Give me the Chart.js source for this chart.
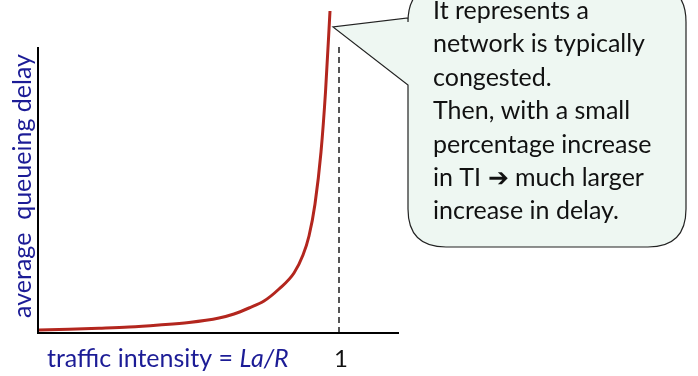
<!DOCTYPE html>
<html>
<head>
<meta charset="utf-8">
<script src="https://cdn.jsdelivr.net/npm/chart.js@4/dist/chart.umd.min.js"></script>
<style>
  html, body { margin: 0; padding: 0; background: #fff; }
  #wrap { position: relative; width: 698px; height: 376px; }
</style>
</head>
<body>
<div id="wrap"><canvas id="delayChart"></canvas></div>
<script>
// traffic intensity (La/R) vs average queueing delay (relative units)
const intensity = [0, 0.1, 0.2, 0.3, 0.4, 0.5, 0.6, 0.65, 0.7, 0.75, 0.8, 0.85, 0.88, 0.9, 0.92, 0.94, 0.955, 0.97];
const delay = [2, 2.8, 3.8, 5, 7, 9.5, 14, 18, 24, 31, 43, 59, 77, 96, 128, 180, 240, 321];
const xTicks = [1];
const axisTop = 285; // y value where the drawn axis line ends

const xTitle = ['traffic intensity = ', 'La/R'];
const yTitle = 'average  queueing delay';
const calloutLines = [
    'It represents a',
    'network is typically',
    'congested.',
    'Then, with a small',
    'percentage increase',
    'in TI \u2794 much larger',
    'increase in delay.'
];

const blue = '#1c1c96';

// axes, dashed marker, titles and the callout bubble
const decorPlugin = {
    id: 'decor',
    afterDatasetsDraw(chart) {
        const ctx = chart.ctx;
        const xs = chart.scales.x;
        const ys = chart.scales.y;
        const x0 = xs.getPixelForValue(0);
        const y0 = ys.getPixelForValue(0);
        const yTop = ys.getPixelForValue(axisTop);

        ctx.save();
        // dashed line at intensity = 1
        const x1 = xs.getPixelForValue(xTicks[0]);
        ctx.strokeStyle = '#555';
        ctx.lineWidth = 2;
        ctx.setLineDash([6, 4]);
        ctx.beginPath();
        ctx.moveTo(x1, yTop);
        ctx.lineTo(x1, y0);
        ctx.stroke();
        ctx.setLineDash([]);

        // axes
        ctx.strokeStyle = '#000';
        ctx.lineWidth = 2;
        ctx.beginPath();
        ctx.moveTo(x0 - 1, yTop);
        ctx.lineTo(x0 - 1, y0 + 1);
        ctx.lineTo(chart.chartArea.right, y0 + 1);
        ctx.stroke();

        // tick label "1"
        ctx.fillStyle = '#111';
        ctx.font = '24px Lato';
        ctx.textAlign = 'center';
        ctx.textBaseline = 'alphabetic';
        ctx.fillText(String(xTicks[0]), x1 + 2, 367);

        // x title (normal + italic part)
        ctx.fillStyle = blue;
        ctx.textAlign = 'left';
        ctx.font = '25px Lato';
        ctx.fillText(xTitle[0], 47, 367);
        const w = ctx.measureText(xTitle[0]).width;
        ctx.font = 'italic 25px Lato';
        ctx.fillText(xTitle[1], 47 + w, 367);

        // y title
        ctx.save();
        ctx.translate(23, 186);
        ctx.rotate(-Math.PI / 2);
        ctx.font = '25px Lato';
        ctx.textAlign = 'center';
        ctx.textBaseline = 'middle';
        ctx.fillText(yTitle, 0, 0);
        ctx.restore();

        // callout bubble pointing at the last point of the curve
        const last = intensity.length - 1;
        const tipX = xs.getPixelForValue(intensity[last]) + 3;
        const tipY = ys.getPixelForValue(delay[last]) + 16;
        const L = 408, R = 686, T = -16, B = 247, r = 38;
        ctx.beginPath();
        ctx.moveTo(L + r, T);
        ctx.lineTo(R - r, T);
        ctx.quadraticCurveTo(R, T, R, T + r);
        ctx.lineTo(R, B - r);
        ctx.quadraticCurveTo(R, B, R - r, B);
        ctx.lineTo(L + r, B);
        ctx.quadraticCurveTo(L, B, L, B - r);
        ctx.lineTo(L, 85);
        ctx.lineTo(tipX, tipY);
        ctx.lineTo(L, 18);
        ctx.lineTo(L, T + r);
        ctx.quadraticCurveTo(L, T, L + r, T);
        ctx.closePath();
        ctx.fillStyle = '#eef7f2';
        ctx.fill();
        ctx.strokeStyle = '#222';
        ctx.lineWidth = 1.2;
        ctx.stroke();

        ctx.fillStyle = '#111';
        ctx.font = '25px Lato';
        ctx.textAlign = 'left';
        ctx.textBaseline = 'middle';
        calloutLines.forEach((line, i) => {
            ctx.fillText(line, 433, 11 + i * 33.4);
        });
        ctx.restore();
    }
};

const points = intensity.map((v, i) => ({ x: v, y: delay[i] }));

new Chart(document.getElementById('delayChart'), {
    type: 'line',
    data: {
        datasets: [{
            data: points,
            borderColor: '#b3261e',
            borderWidth: 3,
            pointRadius: 0,
            fill: false,
            cubicInterpolationMode: 'monotone'
        }]
    },
    options: {
        responsive: true,
        maintainAspectRatio: false,
        animation: false,
        layout: { padding: { left: 39, right: 299, top: 2, bottom: 44 } },
        plugins: {
            legend: { display: false },
            tooltip: { enabled: false }
        },
        scales: {
            x: { type: 'linear', min: 0, max: 1.2, display: false },
            y: { type: 'linear', min: 0, max: 330, display: false }
        }
    },
    plugins: [decorPlugin]
});
</script>
</body>
</html>
